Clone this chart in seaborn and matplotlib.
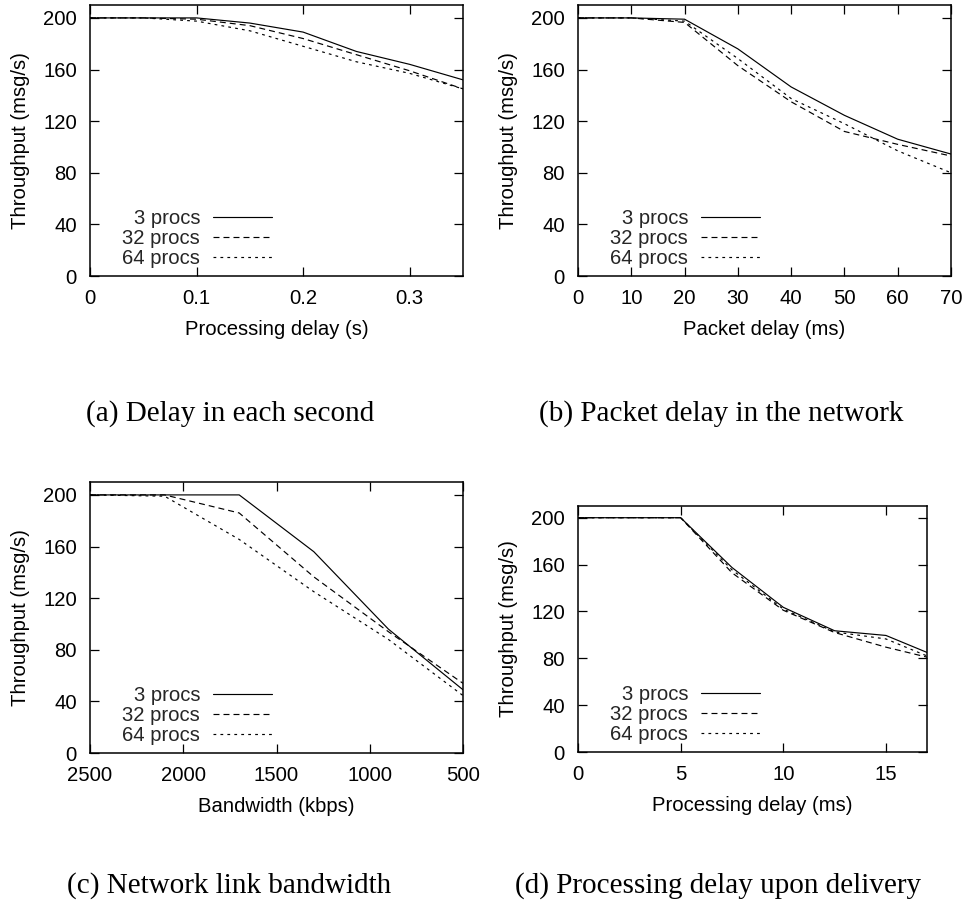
import matplotlib
matplotlib.use("Agg")
import matplotlib.pyplot as plt
import seaborn as sns
import pandas as pd

# ---------------- data ----------------
series_names = ["3 procs", "32 procs", "64 procs"]

a_x = [0, 0.05, 0.1, 0.15, 0.2, 0.25, 0.3, 0.35]
a_3 = [200, 200, 200, 196, 189, 174, 164, 152]
a_32 = [200, 200, 199, 194, 184, 171.5, 159, 145]
a_64 = [200, 200, 197.5, 190, 178, 166, 157, 145]

b_x = [0, 10, 20, 30, 40, 50, 60, 70]
b_3 = [200, 200, 199, 176, 146.5, 124.5, 106, 94.5]
b_32 = [200, 200, 196.5, 163, 135, 112, 102, 93]
b_64 = [200, 200, 197.5, 168.5, 137.5, 118, 97, 80]

c_x = [2500, 2100, 1700, 1300, 900, 500]
c_3 = [200, 200, 200, 156, 96, 49]
c_32 = [200, 200, 186, 136.5, 94, 54]
c_64 = [200, 199, 165.5, 125, 88, 44.5]

d_x = [0, 2.5, 5, 7.5, 10, 12.5, 15, 17]
d_3 = [200, 200, 200, 157.5, 123.5, 103.5, 99.5, 85]
d_32 = [200, 200, 200, 153, 121, 102, 89.5, 81]
d_64 = [200, 200, 200, 155.5, 122, 102.5, 96.5, 82]

a_ticks = [0, 0.1, 0.2, 0.3]
a_ticklabels = ["0", "0.1", "0.2", "0.3"]
b_ticks = [0, 10, 20, 30, 40, 50, 60, 70]
b_ticklabels = ["0", "10", "20", "30", "40", "50", "60", "70"]
c_ticks = [2500, 2000, 1500, 1000, 500]
c_ticklabels = ["2500", "2000", "1500", "1000", "500"]
d_ticks = [0, 5, 10, 15]
d_ticklabels = ["0", "5", "10", "15"]
y_ticks = [0, 40, 80, 120, 160, 200]
y_ticklabels = ["0", "40", "80", "120", "160", "200"]

x_labels = ["Processing delay (s)", "Packet delay (ms)", "Bandwidth (kbps)", "Processing delay (ms)"]
y_label = "Throughput (msg/s)"
captions = ["(a) Delay in each second", "(b) Packet delay in the network",
            "(c) Network link bandwidth", "(d) Processing delay upon delivery"]

# ---------------- style ----------------
sns.set_style("ticks")
plt.rcParams["font.family"] = ["Liberation Sans", "DejaVu Sans"]
plt.rcParams["lines.scale_dashes"] = False

W, H = 965, 905
fig = plt.figure(figsize=(W / 100, H / 100), dpi=100)

# pixel boxes: left, right, top, bottom
boxes = [(90, 463, 5, 276), (578, 951, 5, 276), (90, 463, 482, 753), (578, 927, 506, 752)]
xlims = [(0, 0.35), (0, 70), (2500, 500), (0, 17)]
xs = [a_x, b_x, c_x, d_x]
ys = [[a_3, a_32, a_64], [b_3, b_32, b_64], [c_3, c_32, c_64], [d_3, d_32, d_64]]
ticks = [(a_ticks, a_ticklabels), (b_ticks, b_ticklabels), (c_ticks, c_ticklabels), (d_ticks, d_ticklabels)]
legend_right = [272, 760, 272, 760]
styles = ["-", (0, (4.3, 2.9)), (0, (2.0, 3.0))]
cap_pos = [(230, 421), (721, 421), (229, 893), (718, 893)]

FS = 14.6
for i in range(4):
    l, r, t, b = boxes[i]
    ax = fig.add_axes([l / W, 1 - b / H, (r - l) / W, (b - t) / H])
    for name, yv, ls in zip(series_names, ys[i], styles):
        df = pd.DataFrame({"x": xs[i], "y": yv})
        sns.lineplot(data=df, x="x", y="y", ax=ax, color="black", linewidth=0.85,
                     linestyle=ls, label=name, legend=False, sort=False)
    ax.set_xlim(*xlims[i])
    ax.set_ylim(0, 210)
    ax.set_xticks(ticks[i][0])
    ax.set_xticklabels(ticks[i][1])
    ax.set_yticks(y_ticks)
    ax.set_yticklabels(y_ticklabels)
    ax.tick_params(direction="in", top=True, right=True, length=6.5, width=0.9,
                   labelsize=FS, color="black", labelcolor="black")
    ax.tick_params(axis="y", pad=9.4)
    ax.tick_params(axis="x", pad=9.4)
    for s in ax.spines.values():
        s.set_linewidth(1.1)
        s.set_color("black")
        s.set_visible(True)
    ax.set_xlabel(x_labels[i], fontsize=FS, labelpad=8.7, color="black")
    ax.set_ylabel(y_label, fontsize=FS, labelpad=9.5, color="black")
    ax.set_facecolor("white")
    fx = (legend_right[i] - l) / (r - l)
    fy = 8 / (b - t)
    ax.legend(loc="lower right", bbox_to_anchor=(fx, fy), frameon=False,
              markerfirst=False, fontsize=FS, handlelength=2.9, handletextpad=0.64,
              labelspacing=0.05, borderpad=0, borderaxespad=0)
    cx, cy = cap_pos[i]
    fig.text(cx / W, 1 - cy / H, captions[i], ha="center", va="baseline",
             fontsize=21, family=["Liberation Serif", "DejaVu Serif"], color="black")

fig.savefig("out.png", dpi=100, facecolor="white")
